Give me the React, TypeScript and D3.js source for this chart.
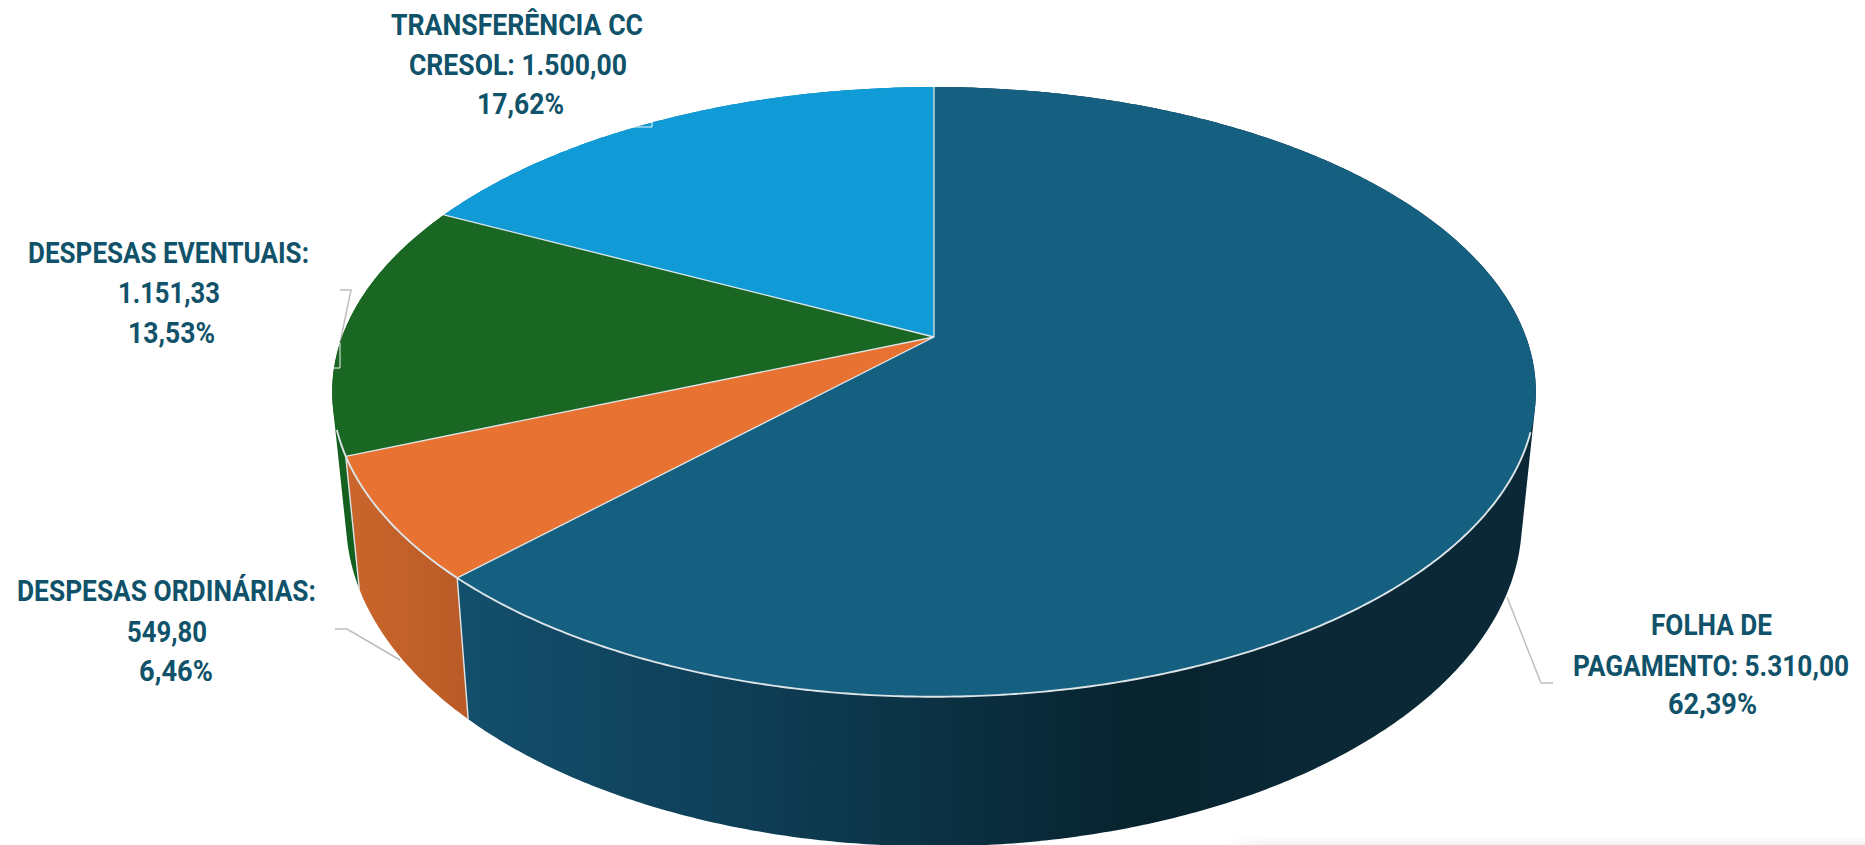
import React from "react";
import * as d3 from "d3";

const categories = ["FOLHA DE PAGAMENTO", "DESPESAS ORDINÁRIAS", "DESPESAS EVENTUAIS", "TRANSFERÊNCIA CC CRESOL"];
const values = [5310.0, 549.8, 1151.33, 1500.0];
const topColors = ["#155f81", "#e77231", "#1a6723", "#109bd6"];
const labelLines = [
  ["FOLHA DE", "PAGAMENTO: 5.310,00", "62,39%"],
  ["DESPESAS ORDINÁRIAS:", "549,80", "6,46%"],
  ["DESPESAS EVENTUAIS:", "1.151,33", "13,53%"],
  ["TRANSFERÊNCIA CC", "CRESOL: 1.500,00", "17,62%"],
];

// [x0, x1, baseline] for each label line
const labelBoxes = [
  [[1651, 1772, 635], [1573, 1849, 676], [1668, 1757, 714]],
  [[17, 316, 601], [127, 207, 642], [139, 213, 681]],
  [[28, 309, 263], [118, 220, 303], [128, 215, 343]],
  [[391, 643, 35], [409, 627, 75], [477, 564, 114]],
];

const leaders: [number, number][][] = [
  [[1507, 597], [1541, 683], [1553, 683]],
  [[335, 629], [347, 629], [400, 660]],
  [[340, 290], [351, 290], [340, 343]],
];
const whiteTicks: [number, number][][] = [
  [[340, 343], [340, 368], [333, 368]],
  [[633, 127], [652, 127], [652, 122]],
];

const W = 1865, H = 845;
const apexX = 934, apexY = 337;
const A = 592, B = 295, P = 0.18;
const wallSx = 0.977, wallSy = 1.07, wallDy = 100.8;
const rimStartY = 430;
const edge = "#dde5e8";
const textColor = "#0f5269";

type Pt = [number, number];
const topPt = (t: number): Pt => {
  const u = Math.sin(t), v = -Math.cos(t), w = 1 - P * v;
  return [apexX + (A * u) / w, apexY + (B * v) / w];
};
const lowPt = (p: Pt): Pt => [apexX + (p[0] - apexX) * wallSx, p[1] * wallSy + wallDy];
const line = d3.line<Pt>();

const arcs = d3.pie<number>().sort(null).startAngle(0).endAngle(2 * Math.PI)(values);
const samples = (a: number, b: number) => {
  const n = Math.max(8, Math.ceil((b - a) * 120));
  return d3.range(n + 1).map((i) => topPt(a + ((b - a) * i) / n));
};
// The side wall is the sweep of the rim down to the lower disc: one consistently wound quad per rim step.
const sweep = (rim: Pt[]) =>
  d3
    .pairs(rim)
    .map(([a, b]) => {
      const quad: Pt[] = [a, b, lowPt(b), lowPt(a)];
      if (d3.polygonArea(quad) < 0) quad.reverse();
      return line(quad)! + "Z";
    })
    .join("");

const wallFills = ["url(#wallBlue)", "url(#wallOrange)", "#14601f", "#0d84b6"];

export default function App() {
  const slices = arcs.map((arc) => {
    const rim = samples(arc.startAngle, arc.endAngle);
    const front = rim.filter((p) => p[1] >= rimStartY);
    return {
      top: line([[apexX, apexY], ...rim])! + "Z",
      wall: sweep(rim),
      rim: front.length ? line(front) : null,
      start: rim[0],
      end: rim[rim.length - 1],
    };
  });
  const drawOrder = [3, 2, 1, 0];
  return (
    <svg
      width={W}
      height={H}
      viewBox={`0 0 ${W} ${H}`}
      style={{ position: "fixed", left: 0, top: 0, background: "#fff" }}
    >
      <defs>
        <linearGradient id="wallBlue" gradientUnits="userSpaceOnUse" x1={454} x2={1320} y1={0} y2={0}>
          <stop offset="0" stopColor="#134f6c" />
          <stop offset="0.3" stopColor="#0f4059" />
          <stop offset="0.8" stopColor="#07232e" />
          <stop offset="1" stopColor="#0a2836" />
        </linearGradient>
        <linearGradient id="wallOrange" gradientUnits="userSpaceOnUse" x1={344} x2={467} y1={0} y2={0}>
          <stop offset="0" stopColor="#cb662c" />
          <stop offset="1" stopColor="#b95b27" />
        </linearGradient>
        <linearGradient id="floor" x1="0" x2="0" y1="0" y2="1">
          <stop offset="0" stopColor="#ffffff" />
          <stop offset="1" stopColor="#f1f1f1" />
        </linearGradient>
        <linearGradient id="floorFade" x1="0" x2="1" y1="0" y2="0">
          <stop offset="0" stopColor="#fff" stopOpacity={1} />
          <stop offset="1" stopColor="#fff" stopOpacity={0} />
        </linearGradient>
      </defs>

      <rect x={1225} y={836} width={640} height={9} fill="url(#floor)" />
      <rect x={1225} y={836} width={40} height={9} fill="url(#floorFade)" />

      {leaders.map((l, i) => (
        <path key={i} d={line(l)!} fill="none" stroke="#bdbdbd" strokeWidth={1.5} />
      ))}

      {drawOrder.map((i) => (
        <path key={categories[i]} d={slices[i].wall} fill={wallFills[i]} fillRule="nonzero" />
      ))}
      {[slices[0].end, slices[1].end].map((p, i) => (
        <path key={i} d={line([p, lowPt(p)])!} stroke={edge} strokeWidth={1.4} fill="none" />
      ))}
      {slices.map((s, i) => (
        <path key={i} d={s.top} fill={topColors[i]} />
      ))}
      {slices.map((s, i) =>
        s.rim ? <path key={i} d={s.rim} fill="none" stroke={edge} strokeWidth={1.9} /> : null
      )}
      {slices.map((s, i) => (
        <path key={i} d={line([[apexX, apexY], s.start])!} fill="none" stroke={edge} strokeWidth={1.3} />
      ))}

      {whiteTicks.map((l, i) => (
        <path key={i} d={line(l)!} fill="none" stroke="#f2f6f7" strokeWidth={1} />
      ))}

      {labelLines.map((lines, i) =>
        lines.map((t, j) => {
          const [x0, x1, y] = labelBoxes[i][j];
          return (
            <text
              key={t}
              transform={`translate(${x0},${y}) scale(1,1.07)`}
              textLength={x1 - x0}
              lengthAdjust="spacingAndGlyphs"
              fontFamily="Roboto, sans-serif"
              fontWeight={700}
              fontSize={27}
              fill={textColor}
            >
              {t}
            </text>
          );
        })
      )}
    </svg>
  );
}
